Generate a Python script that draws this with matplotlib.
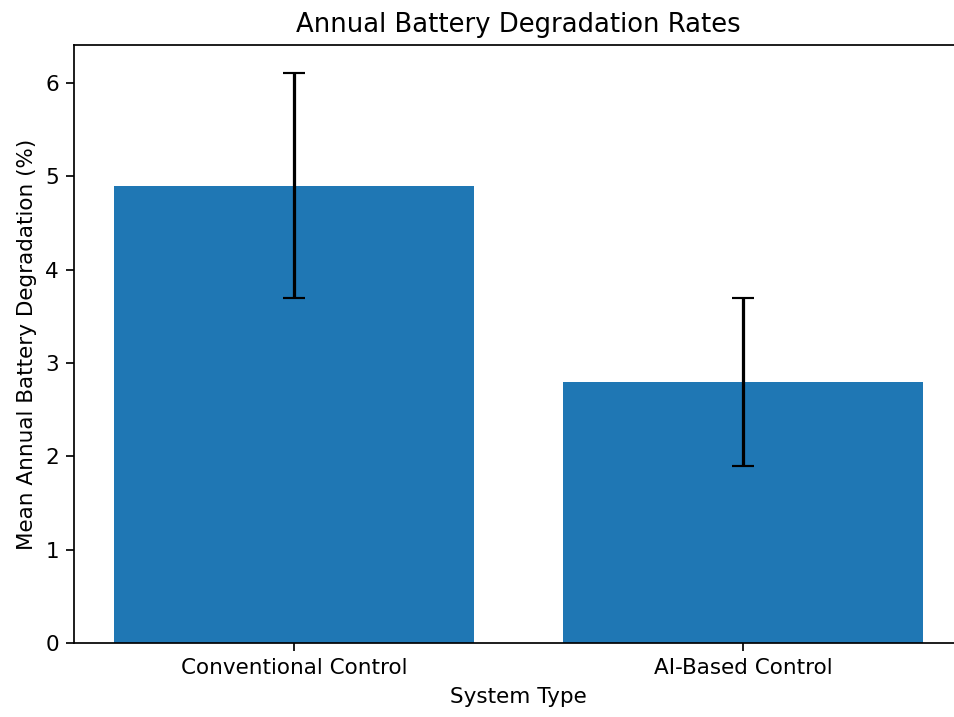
import matplotlib
matplotlib.use("Agg")
import matplotlib.pyplot as plt

# data
systems = ["Conventional Control", "AI-Based Control"]
mean_degradation = [4.9, 2.8]
std_degradation = [1.2, 0.9]

DPI = 155
fig = plt.figure(figsize=(954 / DPI, 717 / DPI), dpi=DPI)
ax = fig.add_axes([74 / 954, 1 - 643 / 717, 889 / 954, 598 / 717])

ax.bar(systems, mean_degradation, yerr=std_degradation, capsize=5,
       color="#1f77b4")

ax.set_title("Annual Battery Degradation Rates")
ax.set_xlabel("System Type")
ax.set_ylabel("Mean Annual Battery Degradation (%)")
# the original picture is cut off before the right frame line
ax.spines["right"].set_visible(False)

fig.savefig("out.png", dpi=DPI)
